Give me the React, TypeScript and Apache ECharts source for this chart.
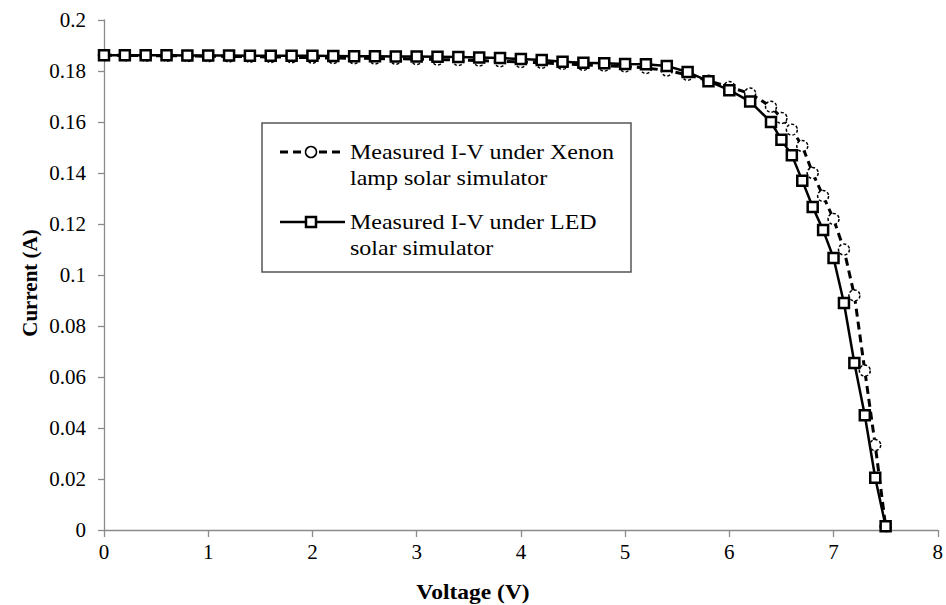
import React, { useEffect, useRef } from "react";
import * as echarts from "echarts";

const voltage = [
  0, 0.2, 0.4, 0.6, 0.8, 1.0, 1.2, 1.4, 1.6, 1.8, 2.0, 2.2, 2.4, 2.6, 2.8, 3.0,
  3.2, 3.4, 3.6, 3.8, 4.0, 4.2, 4.4, 4.6, 4.8, 5.0, 5.2, 5.4, 5.6, 5.8, 6.0,
  6.2, 6.4, 6.5, 6.6, 6.7, 6.8, 6.9, 7.0, 7.1, 7.2, 7.3, 7.4, 7.5,
];

const currentLED = [
  0.1862, 0.1862, 0.1862, 0.1862, 0.1861, 0.1861, 0.1861, 0.186, 0.186, 0.186,
  0.186, 0.1859, 0.1858, 0.1858, 0.1857, 0.1857, 0.1856, 0.1855, 0.1853,
  0.1851, 0.1847, 0.1843, 0.1836, 0.1832, 0.183, 0.1827, 0.1826, 0.182,
  0.1796, 0.176, 0.1725, 0.168, 0.16, 0.153, 0.147, 0.137, 0.1267, 0.1176,
  0.1067, 0.089, 0.0655, 0.045, 0.0205, 0.0015,
];

const currentXenon = [
  0.1862, 0.1861, 0.186, 0.186, 0.1859, 0.1858, 0.1857, 0.1856, 0.1855,
  0.1854, 0.1852, 0.1851, 0.185, 0.1849, 0.1848, 0.1847, 0.1845, 0.1843,
  0.1841, 0.1838, 0.1835, 0.1832, 0.1828, 0.1824, 0.1821, 0.1818, 0.1812,
  0.1802, 0.1785, 0.1762, 0.1737, 0.1712, 0.166, 0.1616, 0.157, 0.1506, 0.14,
  0.131, 0.122, 0.11, 0.092, 0.0625, 0.0333, 0.0015,
];

const seriesNames = [
  "Measured I-V under Xenon\nlamp solar simulator",
  "Measured I-V under LED\nsolar simulator",
];
const xTitle = "Voltage (V)";
const yTitle = "Current (A)";

const FONT = "'Liberation Serif', 'Times New Roman', serif";
const AXIS_GRAY = "#8a8a8a";

export default function App() {
  const ref = useRef<HTMLDivElement>(null);

  useEffect(() => {
    document.body.style.margin = "0";
    document.body.style.overflow = "hidden";
    if (!ref.current) return;
    const chart = echarts.init(ref.current, undefined, { renderer: "svg" });
    const xen = voltage.map((v, i) => [v, currentXenon[i]]);
    const led = voltage.map((v, i) => [v, currentLED[i]]);

    chart.setOption({
      animation: false,
      backgroundColor: "#ffffff",
      grid: { left: 104, right: 5, top: 20, bottom: 75, containLabel: false },
      xAxis: {
        type: "value",
        min: 0,
        max: 8,
        interval: 1,
        axisLine: { show: true, onZero: false, lineStyle: { color: AXIS_GRAY, width: 1.3 } },
        axisTick: { show: true, length: 7, lineStyle: { color: AXIS_GRAY, width: 1.3 } },
        axisLabel: { color: "#000", fontFamily: FONT, fontSize: 21, margin: 11 },
        splitLine: { show: false },
      },
      yAxis: {
        type: "value",
        min: 0,
        max: 0.2,
        interval: 0.02,
        axisLine: { show: true, lineStyle: { color: AXIS_GRAY, width: 1.3 } },
        axisTick: { show: true, length: 6, lineStyle: { color: AXIS_GRAY, width: 1.3 } },
        axisLabel: {
          color: "#000",
          fontFamily: FONT,
          fontSize: 21,
          margin: 18,
          formatter: (v: number) => String(Math.round(v * 100) / 100),
        },
        splitLine: { show: false },
      },
      series: [
        {
          name: seriesNames[0],
          type: "line",
          data: xen,
          symbol: "circle",
          symbolSize: 11,
          lineStyle: { color: "#000", width: 3, type: [8, 5] },
          itemStyle: { color: "#fff", borderColor: "#000", borderWidth: 1.5, borderType: [3, 2] },
          z: 2,
        },
        {
          name: seriesNames[1],
          type: "line",
          data: led,
          symbol: "rect",
          symbolSize: 10,
          lineStyle: { color: "#000", width: 2.5 },
          itemStyle: { color: "#fff", borderColor: "#000", borderWidth: 2.5 },
          z: 3,
        },
      ],
      graphic: [
        {
          type: "text",
          x: 473,
          y: 592,
          scaleX: 1.12,
          style: {
            text: xTitle,
            fontFamily: FONT,
            fontSize: 21,
            fontWeight: "bold",
            fill: "#000",
            align: "center",
            verticalAlign: "middle",
          },
        },
        {
          type: "text",
          x: 30,
          y: 283,
          rotation: Math.PI / 2,
          style: {
            text: yTitle,
            fontFamily: FONT,
            fontSize: 21,
            fontWeight: "bold",
            fill: "#000",
            align: "center",
            verticalAlign: "middle",
          },
        },
        {
          type: "rect",
          shape: { x: 262, y: 123, width: 369, height: 149 },
          style: { fill: "#fff", stroke: "#555", lineWidth: 1.5 },
          z: 10,
        },
        {
          type: "line",
          shape: { x1: 280, y1: 152, x2: 345, y2: 152 },
          style: { stroke: "#000", lineWidth: 3, lineDash: [8, 5] },
          z: 11,
        },
        {
          type: "circle",
          shape: { cx: 311, cy: 152, r: 5.5 },
          style: { fill: "#fff", stroke: "#000", lineWidth: 1.5 },
          z: 12,
        },
        {
          type: "text",
          x: 350,
          y: 165,
          scaleX: 1.2,
          style: {
            text: seriesNames[0],
            fontFamily: FONT,
            fontSize: 20,
            lineHeight: 26,
            fill: "#000",
            align: "left",
            verticalAlign: "middle",
          },
          z: 12,
        },
        {
          type: "line",
          shape: { x1: 280, y1: 222, x2: 345, y2: 222 },
          style: { stroke: "#000", lineWidth: 2.5 },
          z: 11,
        },
        {
          type: "rect",
          shape: { x: 306, y: 217, width: 10, height: 10 },
          style: { fill: "#fff", stroke: "#000", lineWidth: 2.5 },
          z: 12,
        },
        {
          type: "text",
          x: 350,
          y: 235,
          scaleX: 1.2,
          style: {
            text: seriesNames[1],
            fontFamily: FONT,
            fontSize: 20,
            lineHeight: 26,
            fill: "#000",
            align: "left",
            verticalAlign: "middle",
          },
          z: 12,
        },
      ],
    });

    return () => chart.dispose();
  }, []);

  return <div ref={ref} style={{ width: 946, height: 605 }} />;
}
